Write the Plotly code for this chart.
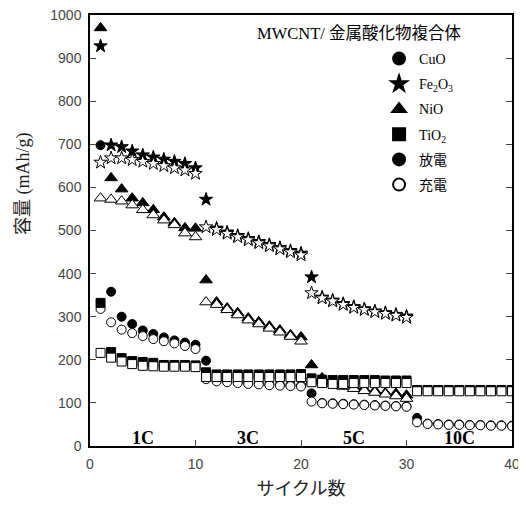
import plotly.graph_objects as go

cycles40 = list(range(1, 41))
cycles30 = list(range(1, 31))

cuo_dis = [698, 358, 300, 283, 268, 260, 252, 245, 240, 235,
           198, 152, 150, 148, 146, 145, 143, 142, 141, 140,
           122, 100, 99, 98, 97, 96, 95, 94, 93, 92,
           65, 52, 51, 50, 50, 49, 49, 48, 48, 47]
cuo_chg = [318, 287, 270, 262, 255, 248, 243, 238, 232, 225,
           155, 150, 148, 146, 144, 143, 141, 140, 139, 138,
           103, 99, 98, 97, 96, 95, 94, 93, 92, 91,
           55, 51, 50, 49, 49, 48, 48, 47, 47, 46]

fe_dis = [928, 698, 694, 684, 675, 670, 665, 660, 655, 645,
          572, 505, 496, 488, 481, 474, 467, 460, 453, 447,
          392, 345, 338, 330, 323, 318, 313, 309, 305, 301]
fe_chg = [658, 668, 668, 664, 660, 655, 650, 645, 640, 632,
          508, 502, 493, 485, 478, 471, 464, 457, 450, 443,
          355, 343, 336, 328, 321, 316, 311, 307, 303, 298]

nio_dis = [970, 622, 596, 575, 564, 548, 531, 518, 506, 505,
           385, 334, 320, 309, 297, 288, 278, 269, 258, 253,
           188, 158, 149, 141, 138, 132, 128, 123, 122, 118]
nio_chg = [575, 572, 568, 559, 548, 536, 524, 513, 494, 485,
           334, 328, 316, 304, 292, 283, 273, 264, 254, 243,
           150, 152, 145, 138, 133, 128, 124, 120, 116, 110]

tio_dis = [332, 218, 204, 197, 195, 193, 188, 188, 188, 187,
           171, 166, 166, 166, 166, 166, 166, 166, 166, 167,
           157, 154, 153, 153, 153, 153, 153, 152, 152, 152,
           130, 130, 130, 130, 130, 130, 130, 130, 130, 130]
tio_chg = [216, 205, 196, 190, 186, 185, 184, 184, 184, 183,
           160, 160, 160, 160, 160, 160, 160, 160, 160, 160,
           148, 146, 144, 144, 146, 146, 146, 146, 146, 146,
           127, 127, 127, 127, 127, 127, 127, 127, 127, 127]

rate_labels = ["1C", "3C", "5C", "10C"]
rate_x = [5, 15, 25, 35]

legend_names = ["CuO", "Fe<sub>2</sub>O<sub>3</sub>", "NiO", "TiO<sub>2</sub>", "放電", "充電"]

fig = go.Figure()

series = [
    (cycles40, cuo_dis, cuo_chg, "circle", 9, legend_names[0]),
    (cycles30, fe_dis, fe_chg, "star", 10, legend_names[1]),
    (cycles30, nio_dis, nio_chg, "triangle-up", 11, legend_names[2]),
    (cycles40, tio_dis, tio_chg, "square", 9, legend_names[3]),
]

for i, (xs, dis, chg, sym, sz, name) in enumerate(series):
    fig.add_trace(go.Scatter(
        x=xs, y=dis, mode="markers", name=name, legendgroup="g%d" % i,
        marker=dict(symbol=sym, size=sz, color="black", line=dict(color="black", width=1)),
    ))
    fig.add_trace(go.Scatter(
        x=xs, y=chg, mode="markers", showlegend=False,
        marker=dict(symbol=sym, size=sz, color="white", line=dict(color="black", width=1)),
    ))

fig.add_trace(go.Scatter(x=[None], y=[None], mode="markers", name=legend_names[4], legendgroup="g4",
                         marker=dict(symbol="circle", size=9, color="black", line=dict(color="black", width=1))))
fig.add_trace(go.Scatter(x=[None], y=[None], mode="markers", name=legend_names[5], legendgroup="g5",
                         marker=dict(symbol="circle", size=7, color="white", line=dict(color="black", width=1))))

for lab, xv in zip(rate_labels, rate_x):
    fig.add_annotation(x=xv, y=0, xref="x", yref="y", text="<b>%s</b>" % lab, showarrow=False,
                       yanchor="bottom", yshift=-4,
                       font=dict(family="Liberation Serif", size=18, color="black"))

fig.add_annotation(x=0.391, y=0.958, xref="paper", yref="paper", text="MWCNT/ 金属酸化物複合体",
                   showarrow=False, xanchor="left", yanchor="middle",
                   font=dict(family="Liberation Serif, Noto Sans CJK JP", size=16.5, color="black"))

# y-axis title (placed slightly above centre, as in the reference)
fig.add_annotation(x=-0.159, y=0.61, xref="paper", yref="paper", text="容量 (mAh/g)",
                   showarrow=False, textangle=-90, xanchor="center", yanchor="middle",
                   font=dict(family="Liberation Serif, Noto Sans CJK JP", size=18, color="#222"))

fig.update_layout(
    width=518, height=499,
    margin=dict(l=82, r=14, t=7, b=61),
    paper_bgcolor="white", plot_bgcolor="white",
    showlegend=True,
    legend=dict(x=0.685, y=0.935, xanchor="left", yanchor="top", bgcolor="rgba(0,0,0,0)",
                font=dict(family="Liberation Serif, Noto Sans CJK JP", size=14, color="black"),
                tracegroupgap=4, itemsizing="constant"),
    xaxis=dict(range=[0, 40], tickvals=[0, 10, 20, 30, 40], ticks="inside", ticklen=6,
               showline=True, linecolor="black", linewidth=1.5, mirror=True, showgrid=False, zeroline=False,
               automargin=False, ticklabelstandoff=4, ticklabeloverflow="allow",
               tickfont=dict(family="Liberation Sans", size=14, color="#444"),
               title=dict(text="サイクル数", font=dict(family="Noto Sans CJK JP", size=18, color="#222"), standoff=12)),
    yaxis=dict(range=[0, 1000], dtick=100, ticks="inside", ticklen=6,
               showline=True, linecolor="black", linewidth=1.5, mirror="ticks", showgrid=False, zeroline=False,
               automargin=False, ticklabelstandoff=4, ticklabeloverflow="allow",
               tickfont=dict(family="Liberation Sans", size=14, color="#444")),
)

fig.write_html("out.html")
